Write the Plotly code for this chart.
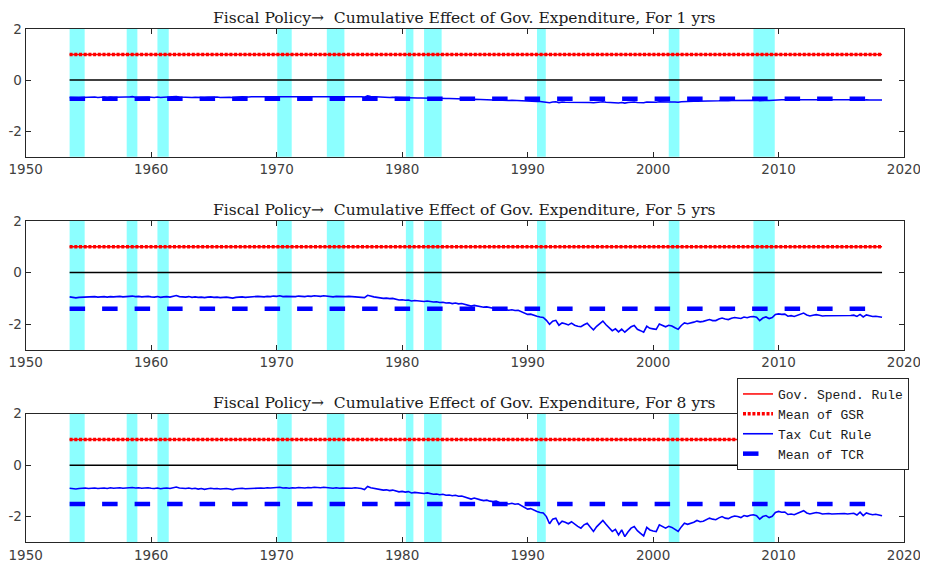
import plotly.graph_objects as go

# ---------------- data ----------------
first_quarter = 1953.5
n_quarters = 260
quarters = [first_quarter + 0.25 * i for i in range(n_quarters)]

horizons = ["1", "5", "8"]

gsr_value = 1.0
gsr_mean = [1.0, 1.0, 1.0]
tcr_mean = [-0.73, -1.40, -1.51]

tcr_1 = [
    -0.68, -0.69,
    -0.70, -0.69, -0.68, -0.67, -0.68, -0.67, -0.66, -0.68, -0.67, -0.66, -0.68, -0.66,
    -0.67, -0.66, -0.66, -0.67, -0.66, -0.66, -0.65, -0.67, -0.66, -0.67, -0.66, -0.66,
    -0.67, -0.68, -0.66, -0.68, -0.67, -0.66, -0.67, -0.65, -0.64, -0.66, -0.67, -0.67,
    -0.66, -0.68, -0.67, -0.68, -0.67, -0.68, -0.67, -0.66, -0.67, -0.66, -0.68, -0.67,
    -0.66, -0.67, -0.68, -0.66, -0.66, -0.65, -0.66, -0.66, -0.65, -0.65, -0.64, -0.65,
    -0.65, -0.64, -0.65, -0.64, -0.64, -0.63, -0.65, -0.64, -0.65, -0.64, -0.64, -0.63,
    -0.64, -0.64, -0.63, -0.64, -0.63, -0.63, -0.64, -0.63, -0.63, -0.64, -0.65, -0.64,
    -0.64, -0.64, -0.65, -0.64, -0.64, -0.64, -0.65, -0.65, -0.67, -0.62, -0.64, -0.65,
    -0.66, -0.67, -0.67, -0.67, -0.68, -0.67, -0.68, -0.69, -0.68, -0.69, -0.69, -0.70,
    -0.69, -0.70, -0.70, -0.71, -0.70, -0.71, -0.71, -0.71, -0.72, -0.71, -0.72, -0.72,
    -0.73, -0.72, -0.73, -0.73, -0.74, -0.74, -0.76, -0.75, -0.76, -0.76, -0.77, -0.77,
    -0.78, -0.78, -0.78, -0.79, -0.79, -0.79, -0.80, -0.79, -0.80, -0.80, -0.81, -0.82,
    -0.82, -0.82, -0.83, -0.84, -0.84, -0.85, -0.87, -0.89, -0.86, -0.85, -0.88, -0.86,
    -0.87, -0.87, -0.86, -0.87, -0.88, -0.88, -0.87, -0.86, -0.88, -0.89, -0.87, -0.86,
    -0.85, -0.87, -0.88, -0.89, -0.88, -0.90, -0.88, -0.90, -0.88, -0.87, -0.86, -0.88,
    -0.88, -0.89, -0.86, -0.87, -0.87, -0.87, -0.85, -0.86, -0.86, -0.85, -0.86, -0.86,
    -0.87, -0.85, -0.84, -0.84, -0.84, -0.83, -0.83, -0.83, -0.83, -0.82, -0.82, -0.82,
    -0.82, -0.81, -0.80, -0.81, -0.81, -0.80, -0.80, -0.80, -0.80, -0.79, -0.80, -0.79,
    -0.78, -0.79, -0.81, -0.79, -0.79, -0.80, -0.79, -0.77, -0.76, -0.77, -0.77, -0.78,
    -0.78, -0.78, -0.77, -0.77, -0.76, -0.77, -0.78, -0.77, -0.77, -0.77, -0.78, -0.78,
    -0.78, -0.78, -0.78, -0.78, -0.78, -0.78, -0.78, -0.78, -0.77, -0.78, -0.77, -0.79,
    -0.77, -0.78, -0.78, -0.78,
    -0.78, -0.78,
]

tcr_5 = [
    -0.94, -0.97,
    -0.98, -0.96, -0.95, -0.94, -0.95, -0.94, -0.93, -0.95, -0.94, -0.93, -0.95, -0.93,
    -0.94, -0.93, -0.92, -0.94, -0.93, -0.92, -0.91, -0.93, -0.92, -0.94, -0.93, -0.92,
    -0.94, -0.95, -0.93, -0.96, -0.94, -0.93, -0.95, -0.92, -0.89, -0.93, -0.94, -0.95,
    -0.93, -0.96, -0.94, -0.96, -0.95, -0.97, -0.95, -0.94, -0.96, -0.95, -0.97, -0.96,
    -0.95, -0.97, -0.99, -0.96, -0.95, -0.94, -0.96, -0.95, -0.93, -0.94, -0.92, -0.93,
    -0.94, -0.92, -0.93, -0.91, -0.92, -0.90, -0.93, -0.92, -0.93, -0.92, -0.93, -0.91,
    -0.92, -0.93, -0.91, -0.92, -0.90, -0.91, -0.92, -0.90, -0.91, -0.93, -0.94, -0.92,
    -0.93, -0.92, -0.93, -0.92, -0.93, -0.92, -0.93, -0.94, -0.97, -0.88, -0.92, -0.94,
    -0.96, -0.98, -1.00, -0.99, -1.01, -1.00, -1.03, -1.06, -1.05, -1.07, -1.06, -1.10,
    -1.08, -1.09, -1.11, -1.12, -1.10, -1.12, -1.14, -1.13, -1.16, -1.15, -1.18, -1.17,
    -1.20, -1.18, -1.21, -1.20, -1.23, -1.25, -1.30, -1.27, -1.30, -1.32, -1.34, -1.33,
    -1.36, -1.38, -1.37, -1.41, -1.42, -1.44, -1.46, -1.44, -1.47, -1.46, -1.52, -1.58,
    -1.62, -1.61, -1.66, -1.69, -1.72, -1.74, -1.85, -2.00, -1.88, -1.85, -2.04, -1.95,
    -1.98, -2.03, -1.96, -2.04, -2.08, -2.10, -2.02, -1.96, -2.10, -2.22, -2.08, -1.98,
    -1.88, -2.02, -2.14, -2.25, -2.18, -2.30, -2.19, -2.31, -2.20, -2.10, -2.05, -2.20,
    -2.25, -2.31, -2.08, -2.16, -2.18, -2.20, -1.99, -2.05, -2.10, -2.04, -2.07, -2.14,
    -2.20, -2.05, -1.95, -1.98, -1.96, -1.92, -1.88, -1.91, -1.89, -1.85, -1.82, -1.86,
    -1.86, -1.80, -1.76, -1.80, -1.82, -1.77, -1.74, -1.76, -1.78, -1.72, -1.75, -1.71,
    -1.70, -1.73, -1.86, -1.76, -1.72, -1.78, -1.74, -1.62, -1.60, -1.62, -1.61, -1.69,
    -1.67, -1.70, -1.66, -1.64, -1.57, -1.64, -1.68, -1.65, -1.63, -1.65, -1.68, -1.67,
    -1.67, -1.68, -1.67, -1.66, -1.67, -1.66, -1.68, -1.66, -1.65, -1.70, -1.62, -1.72,
    -1.64, -1.68, -1.70, -1.69,
    -1.72, -1.73,
]

tcr_8 = [
    -0.90, -0.92,
    -0.93, -0.91, -0.90, -0.89, -0.91, -0.90, -0.89, -0.91, -0.90, -0.89, -0.91, -0.88,
    -0.90, -0.89, -0.88, -0.90, -0.89, -0.88, -0.87, -0.89, -0.88, -0.90, -0.89, -0.88,
    -0.90, -0.91, -0.89, -0.92, -0.90, -0.89, -0.91, -0.88, -0.85, -0.89, -0.90, -0.91,
    -0.89, -0.92, -0.90, -0.93, -0.91, -0.94, -0.92, -0.90, -0.92, -0.91, -0.93, -0.92,
    -0.91, -0.93, -0.95, -0.92, -0.91, -0.90, -0.92, -0.91, -0.89, -0.90, -0.88, -0.89,
    -0.90, -0.88, -0.89, -0.87, -0.88, -0.86, -0.89, -0.88, -0.90, -0.88, -0.89, -0.87,
    -0.88, -0.89, -0.87, -0.88, -0.86, -0.87, -0.88, -0.86, -0.87, -0.89, -0.90, -0.88,
    -0.90, -0.89, -0.90, -0.89, -0.90, -0.88, -0.89, -0.91, -0.95, -0.83, -0.88, -0.90,
    -0.92, -0.95, -0.97, -0.96, -0.99, -0.97, -1.01, -1.04, -1.02, -1.05, -1.03, -1.08,
    -1.06, -1.07, -1.09, -1.10, -1.08, -1.10, -1.13, -1.12, -1.15, -1.13, -1.17, -1.16,
    -1.19, -1.17, -1.21, -1.20, -1.24, -1.26, -1.32, -1.28, -1.33, -1.35, -1.38, -1.36,
    -1.40, -1.42, -1.40, -1.45, -1.46, -1.49, -1.51, -1.48, -1.52, -1.50, -1.58, -1.65,
    -1.71, -1.69, -1.76, -1.80, -1.84, -1.86, -2.00, -2.28, -2.10, -2.06, -2.30, -2.18,
    -2.22, -2.28, -2.20, -2.30, -2.38, -2.45, -2.32, -2.26, -2.42, -2.58, -2.40, -2.28,
    -2.15, -2.30, -2.45, -2.58, -2.50, -2.71, -2.52, -2.78, -2.60, -2.45, -2.39, -2.55,
    -2.65, -2.75, -2.42, -2.52, -2.56, -2.58, -2.32, -2.40, -2.45, -2.38, -2.42, -2.50,
    -2.58, -2.40, -2.26, -2.30, -2.27, -2.22, -2.15, -2.20, -2.18, -2.12, -2.06, -2.10,
    -2.12, -2.05, -2.00, -2.06, -2.08, -2.02, -1.98, -2.00, -2.04, -1.96, -1.99, -1.95,
    -1.93, -1.97, -2.10, -2.00, -1.96, -2.04, -1.99, -1.84, -1.80, -1.83, -1.82, -1.92,
    -1.90, -1.93, -1.88, -1.85, -1.77, -1.86, -1.90, -1.87, -1.84, -1.86, -1.90, -1.89,
    -1.88, -1.90, -1.89, -1.88, -1.89, -1.88, -1.90, -1.88, -1.87, -1.94, -1.83, -1.96,
    -1.86, -1.90, -1.93, -1.91,
    -1.95, -1.97,
]

tcr_series = [tcr_1, tcr_5, tcr_8]

recession_start = [1953.5, 1958.05, 1960.5, 1970.05, 1974.0, 1980.3, 1981.75, 1990.75, 2001.25, 2008.0]
recession_end = [1954.7, 1958.9, 1961.4, 1971.2, 1975.4, 1980.9, 1983.15, 1991.45, 2002.1, 2009.7]

x_ticks = [1950, 1960, 1970, 1980, 1990, 2000, 2010, 2020]
y_ticks = [-2, 0, 2]
y_tick_labels = ["-2", "0", "2"]

# ---------------- figure ----------------
# page is 928x565 but the html body has an 8px margin, so the figure is 920x557
OFF = 8
W, H = 920, 557
x_dom = [(25.7 - OFF) / W, (904 - OFF) / W]
panel_px = [(29, 156.7), (221, 350), (413.7, 542.3)]

fig = go.Figure()
axis_color = "#262626"
tick_font = dict(family="DejaVu Sans", size=13.5, color="#404040")

for k in range(3):
    xa = "x" if k == 0 else f"x{k+1}"
    ya = "y" if k == 0 else f"y{k+1}"
    top, bot = panel_px[k]
    y_dom = [1 - (bot - OFF) / H, 1 - (top - OFF) / H]
    leg = (k == 2)

    # recession shading
    for s, e in zip(recession_start, recession_end):
        fig.add_shape(type="rect", xref=xa, yref=f"{ya} domain", x0=s, x1=e, y0=0, y1=1,
                      fillcolor="#8CFFFF", line=dict(width=0), layer="below")

    # zero line
    fig.add_trace(go.Scatter(x=[quarters[0], quarters[-1]], y=[0, 0], mode="lines",
                             line=dict(color="black", width=1.5), showlegend=False,
                             hoverinfo="skip", xaxis=xa, yaxis=ya))
    # GSR
    fig.add_trace(go.Scatter(x=quarters, y=[gsr_value] * len(quarters), mode="lines",
                             name="Gov. Spend. Rule", line=dict(color="red", width=1.5),
                             showlegend=leg, xaxis=xa, yaxis=ya))
    fig.add_trace(go.Scatter(x=[quarters[0], quarters[-1]], y=[gsr_mean[k]] * 2, mode="lines",
                             name="Mean of GSR", line=dict(color="red", width=3.5, dash="3px,1.7px"),
                             showlegend=leg, xaxis=xa, yaxis=ya))
    # TCR
    fig.add_trace(go.Scatter(x=quarters, y=tcr_series[k], mode="lines",
                             name="Tax Cut Rule", line=dict(color="blue", width=1.6),
                             showlegend=leg, xaxis=xa, yaxis=ya))
    fig.add_trace(go.Scatter(x=[quarters[0], quarters[-1]], y=[tcr_mean[k]] * 2, mode="lines",
                             name="Mean of TCR", line=dict(color="blue", width=4.5, dash="15.5px,17px"),
                             showlegend=leg, xaxis=xa, yaxis=ya))

    axis_common = dict(showline=True, linecolor=axis_color, linewidth=1.2, mirror="allticks",
                       ticks="inside", ticklen=5, tickcolor=axis_color, tickwidth=1.2,
                       showgrid=False, zeroline=False, tickfont=tick_font, automargin=False)
    fig.update_layout({
        ("xaxis" if k == 0 else f"xaxis{k+1}"): dict(domain=x_dom, range=[1950, 2020],
                                                   tickvals=x_ticks, anchor=ya, **axis_common),
        ("yaxis" if k == 0 else f"yaxis{k+1}"): dict(domain=y_dom, range=[-3, 2],
                                                   tickvals=y_ticks, ticktext=y_tick_labels,
                                                   anchor=xa, **axis_common),
    })

    fig.add_annotation(text=f"Fiscal Policy\u2192  Cumulative Effect of Gov. Expenditure, For {horizons[k]} yrs",
                       xref="paper", yref="paper", x=(x_dom[0] + x_dom[1]) / 2, y=y_dom[1],
                       xanchor="center", yanchor="bottom", yshift=0.5, borderpad=0, showarrow=False,
                       font=dict(family="DejaVu Serif", size=15.5, color="#1a1a1a"))

fig.update_layout(
    width=W, height=H,
    margin=dict(l=0, r=0, t=0, b=0),
    paper_bgcolor="white", plot_bgcolor="white",
    legend=dict(x=(737 - OFF) / W, y=1 - (378 - OFF) / H, xanchor="left", yanchor="top",
                bgcolor="white", bordercolor=axis_color, borderwidth=1,
                font=dict(family="Liberation Mono", size=13, color="#1a1a1a"),
                tracegroupgap=0, itemwidth=30),
)

fig.write_html("out.html")
